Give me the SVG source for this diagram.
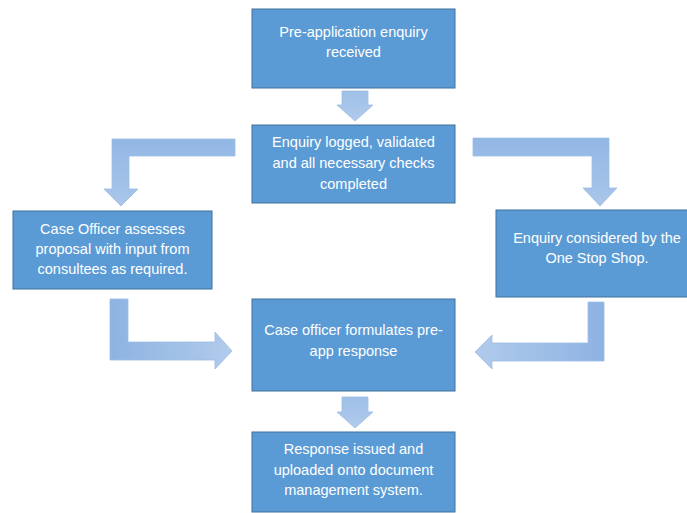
<svg xmlns="http://www.w3.org/2000/svg" width="687" height="513" viewBox="0 0 687 513">
<defs>
<linearGradient id="gh" x1="0" y1="0" x2="1" y2="0"><stop offset="0" stop-color="#8db3e2"/><stop offset="1" stop-color="#b1cbeb"/></linearGradient>
<linearGradient id="ghr" x1="1" y1="0" x2="0" y2="0"><stop offset="0" stop-color="#8db3e2"/><stop offset="1" stop-color="#b1cbeb"/></linearGradient>
<linearGradient id="gv" x1="0" y1="0" x2="0" y2="1"><stop offset="0" stop-color="#9fc0e8"/><stop offset="1" stop-color="#b0caeb"/></linearGradient>
<linearGradient id="ge" x1="0" y1="0" x2="0" y2="1"><stop offset="0" stop-color="#92b7e4"/><stop offset="1" stop-color="#aac6ea"/></linearGradient>
</defs>
<style>
.box{fill:#5b9bd5;stroke:#41719c;stroke-width:1}
.arr{stroke:#9dbde6;stroke-width:0.8}
text{font-family:"Liberation Sans",Arial,sans-serif;font-size:14.5px;fill:#ffffff;text-anchor:middle}
</style>
<rect width="687" height="513" fill="#ffffff"/>
<g id="connectors">
<path class="arr" fill="url(#gv)" d="M342,91 H368 V105 H373 L355,121 L337,105 H342 Z"/>
<path class="arr" fill="url(#gv)" d="M342,397 H368 V412 H373 L355,428 L337,412 H342 Z"/>
<path class="arr" fill="url(#ge)" d="M235,139 V156 H129 V189 H138 L121,206 L104,189 H112 V139 Z"/>
<path class="arr" fill="url(#ge)" d="M473,138 V156 H592 V188 H583 L600,206 L617,188 H609 V138 Z"/>
<path class="arr" fill="url(#gh)" d="M110,299 H128 V342 H215 V332 L232,351 L215,369 V360 H110 Z"/>
<path class="arr" fill="url(#ghr)" d="M604,302 H588 V343 H492 V335 L475,352 L492,369 V361 H604 Z"/>
</g>
<g id="n1"><rect class="box" x="252" y="9" width="203" height="79"/>
<text x="353.5" y="37">Pre-application enquiry</text><text x="353.5" y="57">received</text></g>
<g id="n2"><rect class="box" x="252" y="125" width="203" height="78"/>
<text x="353.5" y="147">Enquiry logged, validated</text><text x="353.5" y="168">and all necessary checks</text><text x="353.5" y="189">completed</text></g>
<g id="n3"><rect class="box" x="13" y="211" width="199" height="78"/>
<text x="112.5" y="234">Case Officer assesses</text><text x="112.5" y="254">proposal with input from</text><text x="112.5" y="274">consultees as required.</text></g>
<g id="n4"><rect class="box" x="496" y="210" width="195" height="87"/>
<text x="597" y="243">Enquiry considered by the</text><text x="597" y="263">One Stop Shop.</text></g>
<g id="n5"><rect class="box" x="252" y="299" width="203" height="92"/>
<text x="353.5" y="335">Case officer formulates pre-</text><text x="353.5" y="356">app response</text></g>
<g id="n6"><rect class="box" x="252" y="432" width="203" height="80"/>
<text x="353.5" y="454">Response issued and</text><text x="353.5" y="475">uploaded onto document</text><text x="353.5" y="495">management system.</text></g>
</svg>
